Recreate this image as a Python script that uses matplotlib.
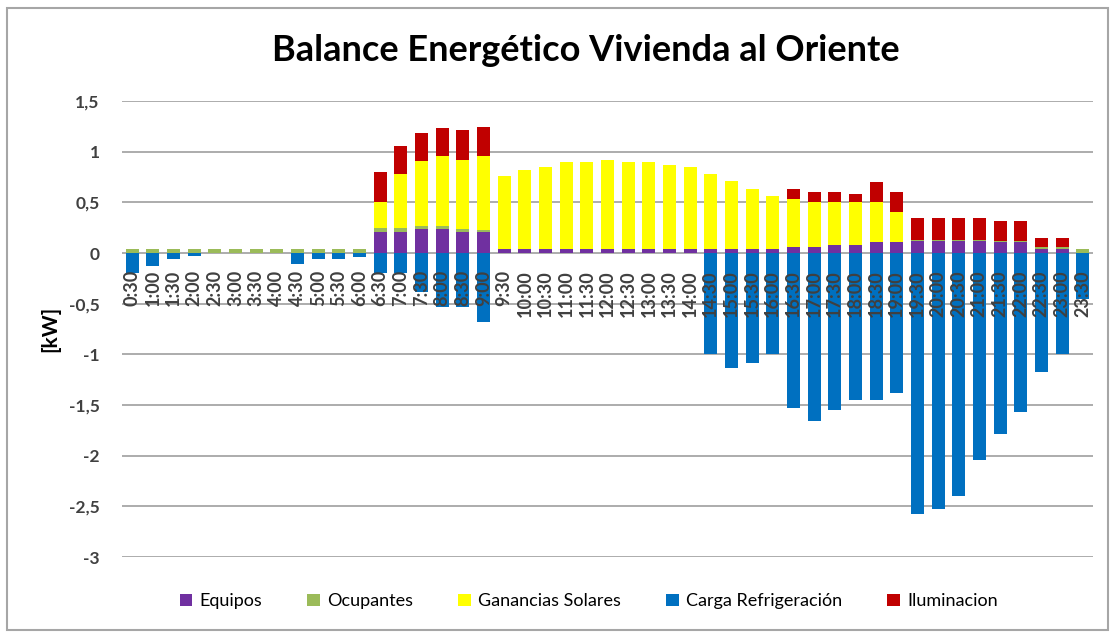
import matplotlib
matplotlib.use("Agg")
import matplotlib.pyplot as plt
import numpy as np
from matplotlib.patches import Rectangle, Patch

plt.rcParams['font.family'] = ['Lato', 'DejaVu Sans']

labels = ["0:30", "1:00", "1:30", "2:00", "2:30", "3:00", "3:30", "4:00", "4:30", "5:00", "5:30", "6:00",
          "6:30", "7:00", "7:30", "8:00", "8:30", "9:00", "9:30", "10:00", "10:30", "11:00", "11:30", "12:00",
          "12:30", "13:00", "13:30", "14:00", "14:30", "15:00", "15:30", "16:00", "16:30", "17:00", "17:30",
          "18:00", "18:30", "19:00", "19:30", "20:00", "20:30", "21:00", "21:30", "22:00", "22:30", "23:00", "23:30"]

equipos = [0]*12 + [0.21, 0.21, 0.24, 0.24, 0.21, 0.21] + [0.035]*14 + \
          [0.06, 0.06, 0.075, 0.075, 0.11, 0.11, 0.12, 0.12, 0.12, 0.12, 0.105, 0.105, 0.04, 0.04, 0]

ocupantes = [0.035]*12 + [0.04, 0.04, 0.025, 0.025, 0.025, 0.02] + [0]*14 + [0]*6 + \
            [0.01]*6 + [0.015, 0.015, 0.035]

solares = [0]*12 + [0.25, 0.53, 0.64, 0.69, 0.68, 0.73] + \
          [0.72, 0.78, 0.81, 0.86, 0.86, 0.88, 0.86, 0.86, 0.83, 0.81, 0.74, 0.68, 0.60, 0.53] + \
          [0.47, 0.44, 0.425, 0.425, 0.39, 0.29] + [0]*9

iluminacion = [0]*12 + [0.30, 0.275, 0.28, 0.28, 0.30, 0.28] + [0]*14 + \
              [0.10, 0.10, 0.10, 0.085, 0.20, 0.20, 0.22, 0.22, 0.22, 0.22, 0.20, 0.20, 0.095, 0.095, 0]

refrigeracion = [-0.2, -0.125, -0.06, -0.027, 0, 0, 0, 0, -0.11, -0.06, -0.06, -0.043,
                 -0.2, -0.2, -0.38, -0.53, -0.53, -0.68] + [0]*10 + \
                [-1.0, -1.13, -1.09, -1.0, -1.53, -1.66, -1.55, -1.45, -1.45, -1.38,
                 -2.58, -2.53, -2.40, -2.04, -1.79, -1.57, -1.17, -1.0, -0.45]

yticks = [1.5, 1, 0.5, 0, -0.5, -1, -1.5, -2, -2.5, -3]
ytick_labels = ["1,5", "1", "0,5", "0", "-0,5", "-1", "-1,5", "-2", "-2,5", "-3"]

series_names = ["Equipos", "Ocupantes", "Ganancias Solares", "Carga Refrigeración", "Iluminacion"]
colors = {"Equipos": "#7030A0", "Ocupantes": "#9BBB59", "Ganancias Solares": "#FFFF00",
          "Carga Refrigeración": "#0070C0", "Iluminacion": "#C00000"}

fig = plt.figure(figsize=(11.15, 6.35), dpi=100)
fig.patch.set_facecolor("white")
fig.patches.append(Rectangle((7/1115, 5/635), 1101/1115, 622/635, transform=fig.transFigure,
                             fill=False, edgecolor="#A6A6A6", linewidth=1.5))

ax = fig.add_axes([122/1115, 78/635, 971/1115, 456/635])
x = np.arange(len(labels))
w = 0.63
e = np.array(equipos); o = np.array(ocupantes); s = np.array(solares); il = np.array(iluminacion)
r = np.array(refrigeracion)

ax.bar(x, e, w, color=colors["Equipos"], zorder=3)
ax.bar(x, o, w, bottom=e, color=colors["Ocupantes"], zorder=3)
ax.bar(x, s, w, bottom=e + o, color=colors["Ganancias Solares"], zorder=3)
ax.bar(x, r, w, color=colors["Carga Refrigeración"], zorder=3)
ax.bar(x, il, w, bottom=e + o + s, color=colors["Iluminacion"], zorder=3)

ax.set_xlim(-0.5, len(labels) - 0.5)
ax.set_ylim(-3, 1.5)
ax.set_yticks(yticks)
ax.set_yticklabels(ytick_labels, fontsize=12.5, color="#404040", fontweight="bold")
ax.tick_params(axis="y", length=0, pad=16)
ax.set_xticks([])
for sp in ax.spines.values():
    sp.set_visible(False)
ax.yaxis.grid(True, color="#A6A6A6", linewidth=1.3, zorder=0)
ax.set_axisbelow(True)

for xi, lab in zip(x, labels):
    ax.text(xi, -0.17, lab, rotation=90, ha="center", va="top", fontsize=13,
            color="#404040", fontweight="bold", zorder=5)

ax.set_ylabel("[kW]", fontsize=15, fontweight="bold", color="#000000", labelpad=6)

fig.text(0.525, 0.921, "Balance Energético Vivienda al Oriente", ha="center", va="center",
         fontsize=26, fontweight="bold", color="#000000")

handles = [Patch(facecolor=colors[n], edgecolor="none") for n in series_names]
fig.legend(handles, series_names, loc="center", bbox_to_anchor=(0.528, 0.053), ncol=5,
           frameon=False, fontsize=13, handlelength=0.7, handleheight=0.7,
           handletextpad=0.4, columnspacing=2.5)

fig.savefig("out.png", dpi=100)
